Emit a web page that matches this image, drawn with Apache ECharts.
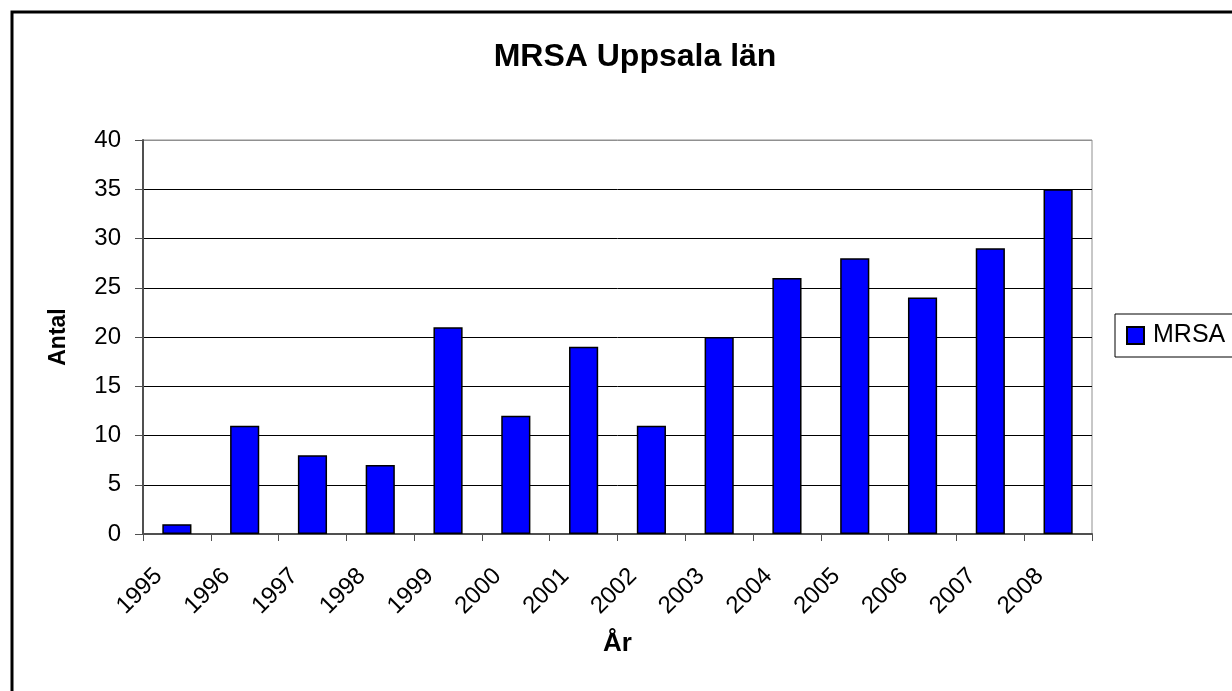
<!DOCTYPE html>
<html>
<head>
<meta charset="utf-8">
<title>MRSA Uppsala län</title>
<script src="https://cdn.jsdelivr.net/npm/echarts@6/dist/echarts.min.js"></script>
<style>
  html, body { margin: 0; padding: 0; background: #fff; }
  #chart { width: 1232px; height: 691px; }
</style>
</head>
<body>
<div id="chart"></div>
<script>
// data
var years = ['1995', '1996', '1997', '1998', '1999', '2000', '2001',
  '2002', '2003', '2004', '2005', '2006', '2007', '2008']
var mrsa = [1, 11, 8, 7, 21, 12, 19, 11, 20, 26, 28, 24, 29, 35]
var yMin = 0
var yMax = 40
var yStep = 5

var font = '"Liberation Sans", Arial, sans-serif'
var axisGrey = '#505050'

// grid lines black, the top one grey like the plot frame
var gridColors = []
for (var v = yMin; v <= yMax; v += yStep) {
  gridColors.push(v === yMax ? '#909090' : '#000000')
}

var chart = echarts.init(document.getElementById('chart'))
chart.setOption({
  backgroundColor: '#ffffff',
  animation: false,
  textStyle: { fontFamily: font },
  title: {
    text: 'MRSA Uppsala län',
    left: 630,
    textAlign: 'center',
    top: 36,
    textStyle: { fontFamily: font, fontSize: 32, fontWeight: 'bold', color: '#000' }
  },
  graphic: [{
    type: 'rect',
    shape: { x: 12, y: 12, width: 1400, height: 900 },
    style: { fill: 'none', stroke: '#000', lineWidth: 3 },
    silent: true,
    z: -1
  }],
  legend: {
    left: 1115,
    top: 314,
    orient: 'vertical',
    icon: 'rect',
    itemWidth: 17,
    itemHeight: 17,
    padding: [9, 40, 9, 11],
    borderColor: '#000',
    borderWidth: 1,
    textStyle: { fontFamily: font, fontSize: 25, color: '#000', padding: [0, 0, 0, 4] },
    data: ['MRSA']
  },
  grid: {
    left: 143,
    right: 140,
    top: 140,
    bottom: 157,
    show: true,
    borderColor: '#909090',
    borderWidth: 1
  },
  xAxis: {
    type: 'category',
    data: years,
    name: 'År',
    nameLocation: 'middle',
    nameGap: 97,
    nameTextStyle: { fontFamily: font, fontSize: 26, fontWeight: 'bold', color: '#000' },
    axisLine: { lineStyle: { color: axisGrey, width: 2 } },
    axisTick: { show: true, interval: 0, length: 7, lineStyle: { color: axisGrey } },
    axisLabel: {
      interval: 0,
      rotate: 45,
      margin: 20,
      fontSize: 24,
      color: '#000',
      fontFamily: font,
      padding: [0, 26, 0, 0]
    }
  },
  yAxis: {
    type: 'value',
    min: yMin,
    max: yMax,
    interval: yStep,
    name: 'Antal',
    nameLocation: 'middle',
    nameGap: 73,
    nameTextStyle: { fontFamily: font, fontSize: 23, fontWeight: 'bold', color: '#000' },
    axisLine: { show: true, lineStyle: { color: axisGrey, width: 2 } },
    axisTick: { show: true, length: 8, lineStyle: { color: axisGrey } },
    axisLabel: { fontSize: 24, color: '#000', fontFamily: font, margin: 22 },
    splitLine: { show: true, lineStyle: { color: gridColors, width: 1 } }
  },
  series: [{
    name: 'MRSA',
    type: 'bar',
    data: mrsa,
    barCategoryGap: '57%',
    itemStyle: { color: '#0000ff', borderColor: '#000', borderWidth: 1.5 }
  }]
})
</script>
</body>
</html>
